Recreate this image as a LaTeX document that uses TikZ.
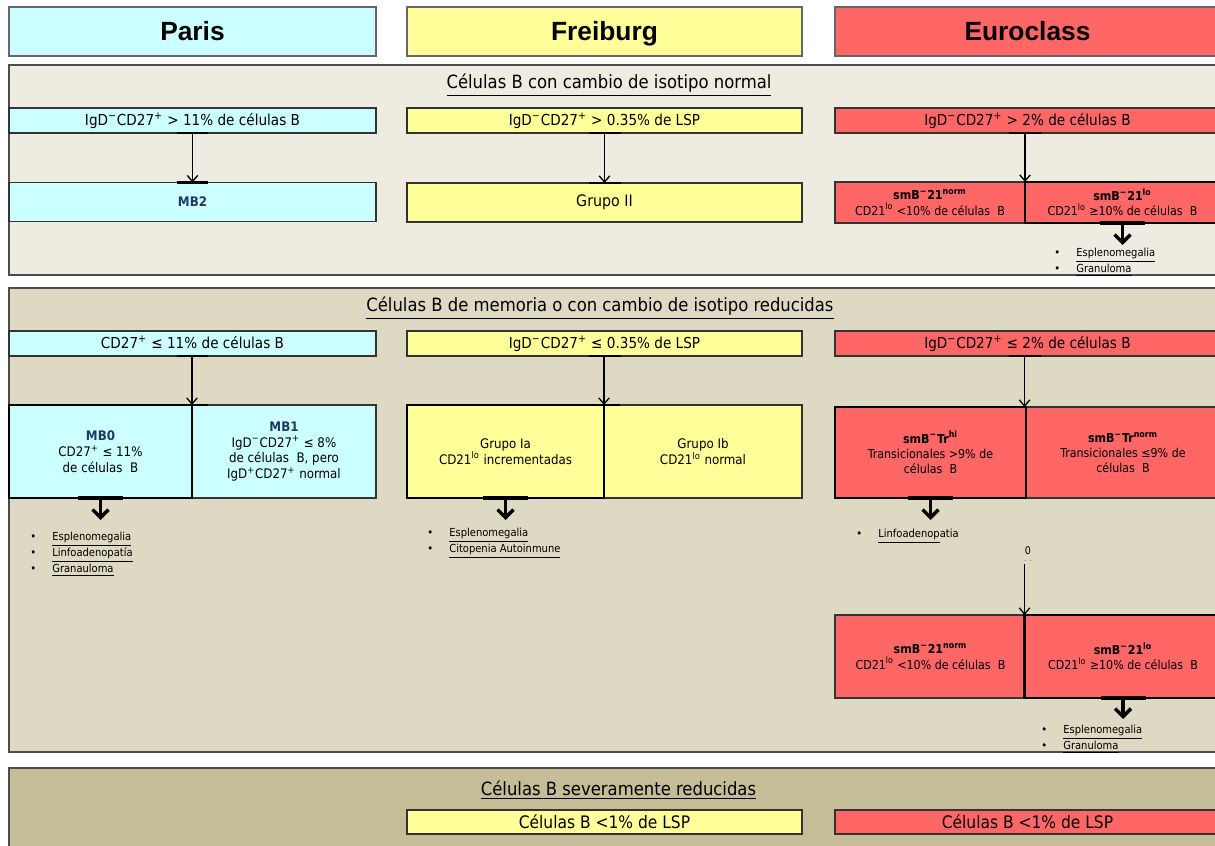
\documentclass[tikz,border=0pt]{standalone}
\usepackage{fontspec}
\setmainfont{DejaVu Sans Condensed}
\newfontfamily\hdrfont{Liberation Sans}
\usetikzlibrary{arrows.meta}
\definecolor{parisC}{HTML}{CCFFFF}
\definecolor{freiC}{HTML}{FFFF99}
\definecolor{euroC}{HTML}{FF6666}
\definecolor{bandA}{HTML}{EEEBE0}
\definecolor{bandB}{HTML}{DDD9C3}
\definecolor{bandC}{HTML}{C4BD97}
\definecolor{mbC}{HTML}{1F3864}
\newcommand{\bul}{\makebox[12.5pt][l]{\textbullet}}

\begin{document}
\begin{tikzpicture}[
  x=0.02cm, y=-0.02cm,
  every node/.style={font=\fontsize{8.6}{10}\selectfont},
  box/.style={rectangle, draw=black!80, line width=0.8pt, inner sep=0pt, outer sep=0pt, align=center},
  sel/.style={draw=black, line width=1.6pt},
  hdr/.style={box, draw=black!60, minimum height=0.98cm, text height=12pt, text depth=1.2pt, font=\hdrfont\bfseries\fontsize{15}{18}\selectfont},
  crit/.style={box, minimum height=0.5cm, text height=7.7pt, text depth=1.5pt},
  band/.style={draw=black!70, line width=0.8pt},
  ttl/.style={font=\fontsize{10.4}{12}\selectfont},
  small/.style={font=\fontsize{7.5}{9}\selectfont},
  esmall/.style={font=\fontsize{7}{8.6}\selectfont},
  lst/.style={anchor=north west, align=left, inner sep=0pt, font=\fontsize{6.3}{7.4}\selectfont},
  con/.style={-{Straight Barb[length=3.5pt,width=6pt]}, line width=0.75pt},
  big/.style={-{Straight Barb[length=4.5pt,width=9pt]}, line width=2pt},
  stub/.style={line width=1.3pt},
]
\useasboundingbox (0,0) rectangle (1215,846);

\node[hdr, fill=parisC, minimum width=7.34cm] (paris) at (192.5,31.5) {Paris};
\node[hdr, fill=freiC, minimum width=7.9cm] (freiburg) at (604.5,31.5) {Freiburg};
\node[hdr, fill=euroC, minimum width=7.7cm] (euroclass) at (1027.5,31.5) {Euroclass};

\filldraw[band, fill=bandA] (9,65) rectangle (1225,275);
\filldraw[band, fill=bandB] (9,288) rectangle (1225,752);
\filldraw[band, fill=bandC] (9,768) rectangle (1225,870);

\node[ttl] (t1) at (609,85) {\underline{Células B con cambio de isotipo normal}};
\node[crit, fill=parisC, minimum width=7.34cm] (p1top) at (192.5,120.5) {IgD\textsuperscript{−}CD27\textsuperscript{+} > 11\% de células B};
\node[crit, fill=freiC, minimum width=7.9cm] (f1top) at (604.5,120.5) {IgD\textsuperscript{−}CD27\textsuperscript{+} > 0.35\% de LSP};
\node[crit, fill=euroC, minimum width=7.7cm] (e1top) at (1027.5,120.5) {IgD\textsuperscript{−}CD27\textsuperscript{+} > 2\% de células B};
\node[box, fill=parisC, minimum width=7.34cm, minimum height=0.78cm, small, text=mbC] (p1sub) at (192.5,202) {\textbf{MB2}};
\node[box, fill=freiC, minimum width=7.9cm, minimum height=0.78cm, font=\fontsize{9}{10}\selectfont] (f1sub) at (604.5,202.5) {Grupo II};
\node[box, fill=euroC, minimum width=3.8cm, minimum height=0.82cm, esmall] (e1l) at (930,202.5) {\textbf{smB\textsuperscript{−}21\textsuperscript{norm}}\\CD21\textsuperscript{lo} <10\% de células~~B};
\node[box, sel, fill=euroC, minimum width=3.9cm, minimum height=0.82cm, esmall] (e1r) at (1122.5,202.5) {\textbf{smB\textsuperscript{−}21\textsuperscript{lo}}\\CD21\textsuperscript{lo} ≥10\% de células~~B};
\node[lst] (el1) at (1054,247.5) {\bul\underline{Esplenomegalia}\\\bul\underline{Granuloma}};

\node[ttl] (t2) at (600,308) {\underline{Células B de memoria o con cambio de isotipo reducidas}};
\node[crit, fill=parisC, minimum width=7.34cm] (p2top) at (192.5,343.5) {CD27\textsuperscript{+} ≤ 11\% de células B};
\node[crit, fill=freiC, minimum width=7.9cm] (f2top) at (604.5,343.5) {IgD\textsuperscript{−}CD27\textsuperscript{+} ≤ 0.35\% de LSP};
\node[crit, fill=euroC, minimum width=7.7cm] (e2top) at (1027.5,343.5) {IgD\textsuperscript{−}CD27\textsuperscript{+} ≤ 2\% de células B};
\node[box, fill=parisC, minimum width=3.68cm, minimum height=1.86cm, small] (mb1) at (284,451.5) {\textcolor{mbC}{\textbf{MB1}}\\IgD\textsuperscript{−}CD27\textsuperscript{+} ≤ 8\%\\de células~~B, pero\\IgD\textsuperscript{+}CD27\textsuperscript{+} normal};
\node[box, sel, fill=parisC, minimum width=3.66cm, minimum height=1.86cm, small] (mb0) at (100.5,451.5) {\textcolor{mbC}{\textbf{MB0}}\\CD27\textsuperscript{+} ≤ 11\%\\de células~~B};
\node[box, fill=freiC, minimum width=3.96cm, minimum height=1.86cm, small] (ib) at (703,451.5) {Grupo Ib\\CD21\textsuperscript{lo} normal};
\node[box, sel, fill=freiC, minimum width=3.94cm, minimum height=1.86cm, small] (ia) at (505.5,451.5) {Grupo Ia\\CD21\textsuperscript{lo} incrementadas};
\node[box, fill=euroC, minimum width=3.94cm, minimum height=1.82cm, esmall] (trn) at (1123,452.5) {\textbf{smB\textsuperscript{−}Tr\textsuperscript{norm}}\\Transicionales ≤9\% de\\células~~B};
\node[box, sel, fill=euroC, minimum width=3.82cm, minimum height=1.82cm, esmall] (trhi) at (930.5,452.5) {\textbf{smB\textsuperscript{−}Tr\textsuperscript{hi}}\\Transicionales >9\% de\\células~~B};
\node[lst] (pl2) at (30,531.5) {\bul\underline{Esplenomegalia}\\\bul\underline{Linfoadenopatía}\\\bul\underline{Granauloma}};
\node[lst] (fl2) at (427,527.5) {\bul\underline{Esplenomegalia}\\\bul\underline{Citopenia Autoinmune}};
\node[lst] (el2) at (856,528.5) {\bul\underline{Linfoadenop}atia};
\node[font=\fontsize{6}{7}\selectfont] (zero) at (1028,551) {0};
\node[font=\fontsize{5}{5}\selectfont, text=black!40, inner sep=0pt] (zdash) at (1028,562) {- -};
\node[box, fill=euroC, minimum width=3.82cm, minimum height=1.66cm, esmall] (e3l) at (930.5,656.5) {\textbf{smB\textsuperscript{−}21\textsuperscript{norm}}\\CD21\textsuperscript{lo} <10\% de células~~B};
\node[box, sel, fill=euroC, minimum width=3.94cm, minimum height=1.66cm, esmall] (e3r) at (1123,656.5) {\textbf{smB\textsuperscript{−}21\textsuperscript{lo}}\\CD21\textsuperscript{lo} ≥10\% de células~~B};
\node[lst] (el3) at (1041,724.5) {\bul\underline{Esplenomegalia}\\\bul\underline{Granuloma}};

\node[ttl] (t3) at (618.5,790) {\underline{Células B severamente reducidas}};
\node[crit, fill=freiC, minimum width=7.9cm, minimum height=0.48cm, text height=8.7pt, font=\fontsize{9.8}{11}\selectfont] (f3) at (604.5,822) {Células B <1\% de LSP};
\node[crit, fill=euroC, minimum width=7.7cm, minimum height=0.48cm, text height=8.7pt, font=\fontsize{9.8}{11}\selectfont] (e3b) at (1027.5,822) {Células B <1\% de LSP};

\coordinate (e1a) at (e1top.south -| e1r.north west);
\coordinate (e2a) at (e2top.south -| trn.north west);
\coordinate (e3a) at (e3r.north west);

\foreach \a in {p1top.south, p1sub.north, f1top.south, f1sub.north, e1a, p2top.south, mb0.north east, f2top.south, ia.north east, e2a}
  \draw[stub] ([xshift=-0.32cm]\a) -- ([xshift=0.32cm]\a);
\foreach \a in {mb0.south, ia.south, trhi.south, e1r.south, e3r.south}
  \draw[stub, line width=1.8pt] ([xshift=-0.45cm]\a) -- ([xshift=0.45cm]\a);

\draw[con] (p1top.south) -- (p1sub.north);
\draw[con] (f1top.south) -- (f1sub.north);
\draw[con] (e1a) -- (e1r.north west);
\draw[con] (p2top.south -| mb0.north east) -- (mb0.north east);
\draw[con] (f2top.south -| ia.north east) -- (ia.north east);
\draw[con] (e2a) -- (trn.north west);
\draw[con] (e3a |- zdash.south) -- (e3a);

\draw[big] (mb0.south) -- ++(0,22);
\draw[big] (ia.south) -- ++(0,22);
\draw[big] (trhi.south) -- ++(0,22);
\draw[big] (e1r.south) -- ++(0,22);
\draw[big] (e3r.south) -- ++(0,21);
\end{tikzpicture}
\end{document}
